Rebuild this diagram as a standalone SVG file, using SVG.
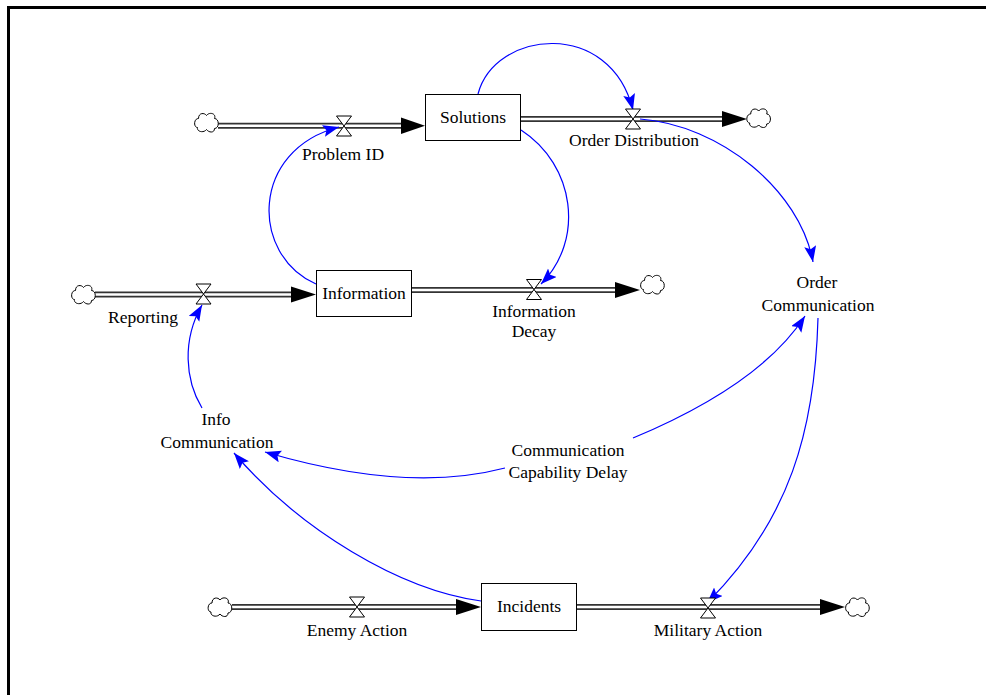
<svg xmlns="http://www.w3.org/2000/svg" width="986" height="695" viewBox="0 0 986 695">
<defs>
<style>
text{font-family:"Liberation Serif","Times New Roman",serif;font-size:17.5px;fill:#000;text-anchor:middle}
.box{fill:#fff;stroke:#000;stroke-width:1}
.pipeo{fill:none;stroke:#333;stroke-width:6}
.pipei{fill:none;stroke:#fff;stroke-width:2.4}
.head{fill:#000}
.valve{fill:#fff;stroke:#000;stroke-width:1}
.cloud{fill:#fff;stroke:#000;stroke-width:1}
.link{fill:none;stroke:#0000ff;stroke-width:1.2;marker-end:url(#ah)}
</style>
<marker id="ah" markerUnits="userSpaceOnUse" markerWidth="18" markerHeight="14" refX="16" refY="6" orient="auto">
<path d="M0,0 L16,6 L0,12 L3,6 Z" fill="#0000ff"/>
</marker>
<path id="cl" d="M-9,5 C-13,5 -13,-4 -8,-4 C-8,-10 -2,-10 0,-7 C3,-11 10,-9 8,-4 C13,-4 13,6 8,6 C8,11 2,10 0,7 C-3,11 -10,9 -9,5 Z"/>
<path id="vl" d="M-7.5,-10 H7.5 L-7.5,10 H7.5 Z"/>
</defs>
<rect x="0" y="0" width="986" height="695" fill="#fff"/>
<path d="M8.5,695 V7.5 H986" fill="none" stroke="#000" stroke-width="3"/>

<g id="pipes">
<path class="pipeo" d="M218,125.8 H402"/><path class="pipei" d="M218,125.8 H402"/>
<path class="pipeo" d="M520,119 H723"/><path class="pipei" d="M520,119 H723"/>
<path class="pipeo" d="M95,294.5 H292"/><path class="pipei" d="M95,294.5 H292"/>
<path class="pipeo" d="M411,290 H616"/><path class="pipei" d="M411,290 H616"/>
<path class="pipeo" d="M232,607 H457"/><path class="pipei" d="M232,607 H457"/>
<path class="pipeo" d="M576,607 H821"/><path class="pipei" d="M576,607 H821"/>
<path class="head" d="M401,117.5 L425,125.8 L401,134 Z"/>
<path class="head" d="M722,111 L747,119 L722,127 Z"/>
<path class="head" d="M291,286.5 L316,294.5 L291,302.5 Z"/>
<path class="head" d="M615,282 L640,290 L615,298 Z"/>
<path class="head" d="M456,599 L481,607 L456,615 Z"/>
<path class="head" d="M820,599 L845,607 L820,615 Z"/>
</g>

<g id="cloud-problem-src"><use href="#cl" class="cloud" x="206.5" y="122.5"/></g>
<g id="cloud-order-sink"><use href="#cl" class="cloud" x="758.7" y="118"/></g>
<g id="cloud-reporting-src"><use href="#cl" class="cloud" x="83.5" y="294.5"/></g>
<g id="cloud-decay-sink"><use href="#cl" class="cloud" x="652.5" y="284.5"/></g>
<g id="cloud-enemy-src"><use href="#cl" class="cloud" x="220" y="607"/></g>
<g id="cloud-military-sink"><use href="#cl" class="cloud" x="857.5" y="607"/></g>

<g id="solutions"><rect class="box" x="425.5" y="94.5" width="95" height="46"/><text x="473" y="123">Solutions</text></g>
<g id="information"><rect class="box" x="316.5" y="270.5" width="95" height="46"/><text x="364" y="299">Information</text></g>
<g id="incidents"><rect class="box" x="481.5" y="583.5" width="95" height="47"/><text x="529" y="612">Incidents</text></g>

<g id="connectors">
<path class="link" d="M478,94 C495,30 610,18 633,110"/>
<path class="link" d="M521,130 C575,165 585,240 541,284"/>
<path class="link" d="M316,284 C250,255 250,150 339,127"/>
<path class="link" d="M640,119 C720,125 800,190 813,262"/>
<path class="link" d="M818,318 C815,430 790,520 707,603"/>
<path class="link" d="M633,438 C700,410 770,370 805,316"/>
<path class="link" d="M505,468 C440,485 360,480 265,452"/>
<path class="link" d="M202,408 C185,380 182,340 202,305"/>
<path class="link" d="M481,601 C400,590 300,530 234,453"/>
</g>

<g id="problem-id"><use href="#vl" class="valve" x="344" y="126"/><text x="343" y="160">Problem ID</text></g>
<g id="order-distribution"><use href="#vl" class="valve" x="633" y="119"/><text x="634" y="146">Order Distribution</text></g>
<g id="reporting"><use href="#vl" class="valve" x="203.5" y="294"/><text x="143" y="323">Reporting</text></g>
<g id="information-decay"><use href="#vl" class="valve" x="534" y="289.5"/><text x="534" y="317">Information</text><text x="534" y="337">Decay</text></g>
<g id="enemy-action"><use href="#vl" class="valve" x="357" y="607"/><text x="357" y="636">Enemy Action</text></g>
<g id="military-action"><use href="#vl" class="valve" x="708" y="608"/><text x="708" y="636">Military Action</text></g>

<g id="order-communication"><text x="817" y="288">Order</text><text x="818" y="311">Communication</text></g>
<g id="info-communication"><text x="216" y="425">Info</text><text x="217" y="448">Communication</text></g>
<g id="communication-capability-delay"><text x="568" y="456">Communication</text><text x="568" y="478">Capability Delay</text></g>
</svg>
